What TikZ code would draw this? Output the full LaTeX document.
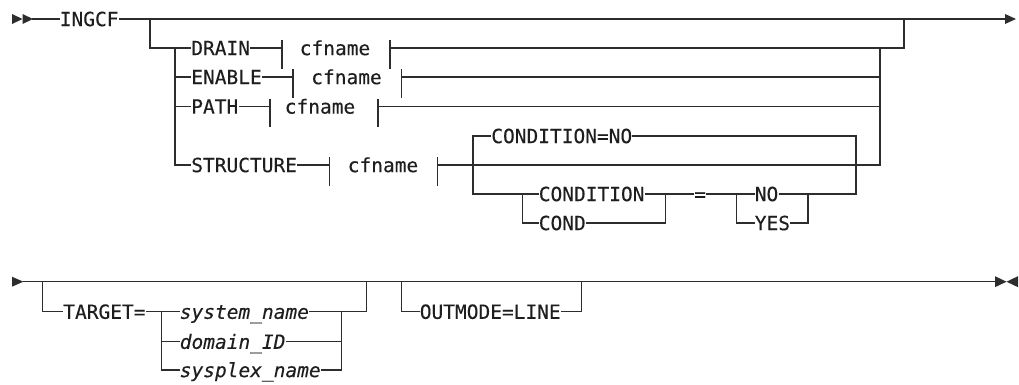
\documentclass[tikz,border=0pt]{standalone}
\usepackage{fontspec}
\newfontfamily\dmono{DejaVu Sans Mono}[ItalicFont={DejaVu Sans Mono Oblique},FakeBold=0.3]
\definecolor{linec}{RGB}{45,45,45}
\definecolor{txtc}{RGB}{30,30,30}
\begin{document}
\begin{tikzpicture}[x=1pt,y=-1pt,
  ln/.style={draw=linec,line width=1.1pt,line cap=rect},
  kw/.style={anchor=west,inner xsep=0.6pt,inner ysep=0pt,text height=14.2pt,text depth=0pt,text=txtc,font=\dmono\fontsize{19.5}{22}\selectfont},
  var/.style={kw,font=\dmono\itshape\fontsize{19.5}{22}\selectfont},
  tipfill/.style={fill=linec,draw=none}]
\useasboundingbox (0,0) rectangle (1019,384);

% ---------- row 1 ----------
\node[kw] (ingcf) at (59,19) {INGCF};
\node[kw] (drain) at (190.5,48) {DRAIN};
\node[kw] (enable) at (190.5,77) {ENABLE};
\node[kw] (path) at (190.5,106.5) {PATH};
\node[kw] (struct) at (190.5,165) {STRUCTURE};
\node[kw] (cf1) at (299,48) {cfname};
\node[kw] (cf2) at (310.5,77) {cfname};
\node[kw] (cf3) at (284,106.5) {cfname};
\node[kw] (cf4) at (347,165) {cfname};
\node[kw] (condno) at (490.5,136) {CONDITION=NO};
\node[kw] (cond) at (538,194) {CONDITION};
\node[kw] (condshort) at (538,223) {COND};
\node[kw] (eq) at (693.5,194) {=};
\node[kw] (no) at (754,194) {NO};
\node[kw] (yes) at (754,223) {YES};

\coordinate (st1) at (33,19);
\coordinate (end1) at (1005,19);
\fill[tipfill] (12,14) -- (22.5,19) -- (12,24) -- cycle;
\fill[tipfill] (22.5,14) -- (33,19) -- (22.5,24) -- cycle;
\fill[tipfill] (1005,14) -- (1016,19) -- (1005,24) -- cycle;
\draw[ln] (st1) -- (ingcf.west);
\draw[ln] (ingcf.east) -- (end1);

% fragment ticks
\coordinate (d1) at (282,48);   \coordinate (d2) at (390,48);
\coordinate (e1) at (293,77);   \coordinate (e2) at (401.7,77);
\coordinate (p1) at (270,106.5);\coordinate (p2) at (378,106.5);
\coordinate (s1) at (329.3,165);\coordinate (s2) at (437.7,165);
\foreach \t in {d1,d2,e1,e2,p1,p2,s1,s2}
  \draw[ln,line cap=butt] (\t) ++(0,-8) -- ++(0,28.5);

\coordinate (b1) at (150,19);
\coordinate (j1) at (904,19);
\coordinate (v1) at (175,48);
\coordinate (v2) at (880,48);
\draw[ln] (b1) |- (drain.west);
\draw[ln] (drain.east) -- (d1);
\draw[ln] (d2) -| (j1);
\draw[ln] (v1) |- (struct.west);
\draw[ln] (v1 |- enable.west) -- (enable.west);
\draw[ln] (v1 |- path.west) -- (path.west);
\draw[ln] (enable.east) -- (e1);
\draw[ln] (path.east) -- (p1);
\draw[ln] (struct.east) -- (s1);
\draw[ln] (e2) -- (e2 -| v2);
\draw[ln] (p2) -- (p2 -| v2);
\draw[ln] (s2) -| (v2);

% CONDITION group
\coordinate (c1) at (473,165);
\coordinate (c2) at (856,194);
\coordinate (g1) at (522.7,194);
\coordinate (g2) at (665.7,194);
\coordinate (h1) at (736.7,194);
\coordinate (h2) at (808,194);
\draw[ln] (c1) |- (condno.west);
\draw[ln] (condno.east) -| (c2);
\draw[ln] (c1) |- (cond.west);
\draw[ln] (g1) |- (condshort.west);
\draw[ln] (cond.east) -- (eq.west);
\draw[ln] (condshort.east) -| (g2);
\draw[ln] (eq.east) -- (no.west);
\draw[ln] (h1) |- (yes.west);
\draw[ln] (no.east) -- (c2);
\draw[ln] (yes.east) -| (h2);

% ---------- row 2 ----------
\coordinate (st2) at (23.3,281.7);
\coordinate (end2) at (995,281.7);
\fill[tipfill] (12,276.7) -- (23.3,281.7) -- (12,286.7) -- cycle;
\fill[tipfill] (995,276.2) -- (1006.5,281.7) -- (995,287.2) -- cycle;
\fill[tipfill] (1018,276.2) -- (1006.5,281.7) -- (1018,287.2) -- cycle;
\draw[ln] (st2) -- (end2);

\node[kw] (target) at (62.5,311.7) {TARGET=};
\node[var] (sysn) at (179,311.7) {system\_name};
\node[var] (dom) at (179,341.7) {domain\_ID};
\node[var] (plex) at (179,370) {sysplex\_name};
\node[kw] (outm) at (419,311.7) {OUTMODE=LINE};

\coordinate (t0) at (42.7,281.7);
\coordinate (t1) at (161.7,311.7);
\coordinate (t2) at (366.7,281.7);
\coordinate (t3) at (341.7,311.7);
\coordinate (o1) at (401.7,281.7);
\coordinate (o2) at (581.7,281.7);
\draw[ln] (t0) |- (target.west);
\draw[ln] (target.east) -- (sysn.west);
\draw[ln] (t1) |- (dom.west);
\draw[ln] (t1) |- (plex.west);
\draw[ln] (sysn.east) -| (t2);
\draw[ln] (dom.east) -- (dom.east -| t3);
\draw[ln] (plex.east) -| (t3);
\draw[ln] (o1) |- (outm.west);
\draw[ln] (outm.east) -| (o2);
\end{tikzpicture}
\end{document}
